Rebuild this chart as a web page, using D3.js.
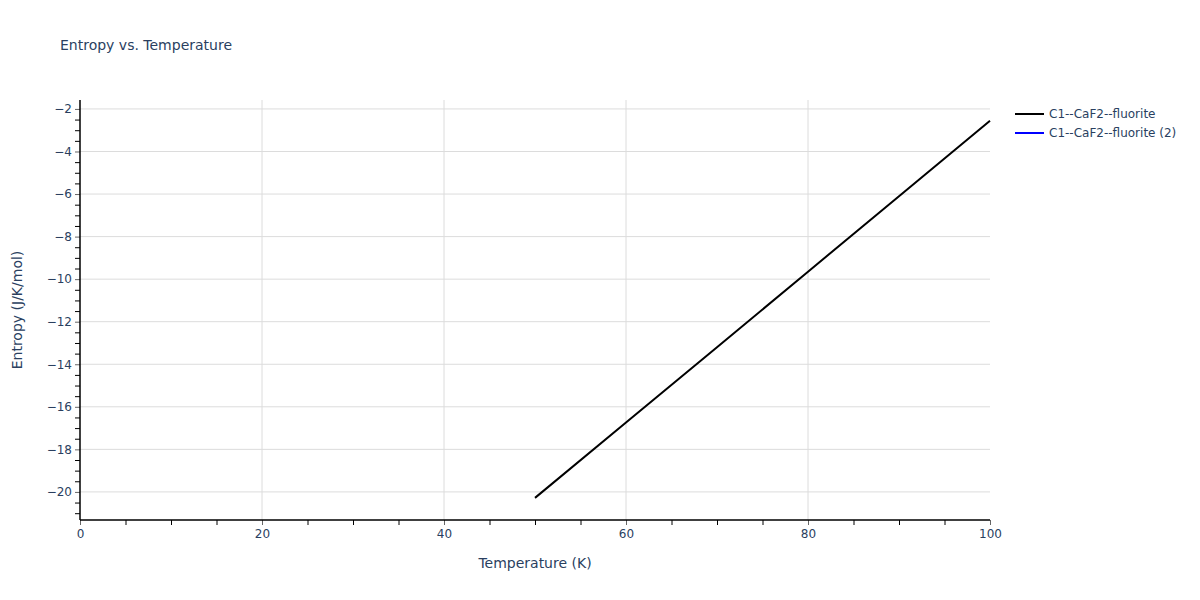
<!DOCTYPE html>
<html>
<head>
<meta charset="utf-8">
<script src="https://cdn.jsdelivr.net/npm/d3@7"></script>
<style>
  html, body { margin: 0; padding: 0; background: #fff; }
  svg text { font-family: "DejaVu Sans", verdana, arial, sans-serif; }
</style>
</head>
<body>
<svg id="chart" width="1200" height="600"></svg>
<script>
// ---- data ----
const temperature = [50, 60, 70, 80, 90, 100];
const entropy = [-20.28, -16.74, -13.2, -9.65, -6.1, -2.56];
const temperature2 = [];
const entropy2 = [];
const seriesNames = ["C1--CaF2--fluorite", "C1--CaF2--fluorite (2)"];
const seriesColors = ["#000000", "#0000ff"];
const xTicks = [0, 20, 40, 60, 80, 100];
const yTicks = [-20, -18, -16, -14, -12, -10, -8, -6, -4, -2];
const xDomain = [0, 100];
const yDomain = [-21.32, -1.58];

const svg = d3.select("#chart");
const margin = {left: 80, right: 210, top: 100, bottom: 80};
const W = 1200, H = 600;
const x = d3.scaleLinear().domain(xDomain).range([margin.left, W - margin.right]);
const y = d3.scaleLinear().domain(yDomain).range([H - margin.bottom, margin.top]);
const textColor = "#2a3f5f";
const fmt = v => (v < 0 ? "\u2212" + Math.abs(v) : String(v));

// grid
svg.append("g").selectAll("line").data(xTicks.filter(t => t > xDomain[0] && t < xDomain[1]))
  .join("line").attr("x1", d => x(d)).attr("x2", d => x(d))
  .attr("y1", y.range()[1]).attr("y2", y.range()[0])
  .attr("stroke", "#dcdcdc").attr("stroke-width", 1);
svg.append("g").selectAll("line").data(yTicks)
  .join("line").attr("y1", d => y(d)).attr("y2", d => y(d))
  .attr("x1", x.range()[0]).attr("x2", x.range()[1])
  .attr("stroke", "#dcdcdc").attr("stroke-width", 1);

// minor ticks
const xMinor = d3.range(xDomain[0], xDomain[1] + 0.001, 5).filter(v => !xTicks.includes(v));
const yMinor = d3.range(-21, -1.5, 0.5).filter(v => !yTicks.includes(v));
svg.append("g").attr("transform", `translate(0,${y.range()[0]})`)
  .call(d3.axisBottom(x).tickValues(xMinor).tickSize(5).tickFormat(""))
  .call(g => g.select(".domain").remove())
  .call(g => g.selectAll("line").attr("stroke", "#000"));
svg.append("g").attr("transform", `translate(${x.range()[0]},0)`)
  .call(d3.axisLeft(y).tickValues(yMinor).tickSize(5).tickFormat(""))
  .call(g => g.select(".domain").remove())
  .call(g => g.selectAll("line").attr("stroke", "#000"));

// major axes
const xAxis = svg.append("g").attr("transform", `translate(0,${y.range()[0]})`)
  .call(d3.axisBottom(x).tickValues(xTicks).tickSize(5).tickPadding(4).tickFormat(fmt));
const yAxis = svg.append("g").attr("transform", `translate(${x.range()[0]},0)`)
  .call(d3.axisLeft(y).tickValues(yTicks).tickSize(5).tickPadding(3).tickFormat(fmt));
[xAxis, yAxis].forEach(g => {
  g.select(".domain").remove();
  g.selectAll("line").attr("stroke", "#666");
  g.selectAll("text").attr("fill", textColor).style("font-size", "12px");
});
// axis lines
svg.append("line").attr("x1", x.range()[0]).attr("x2", x.range()[1])
  .attr("y1", y.range()[0]).attr("y2", y.range()[0]).attr("stroke", "#000").attr("stroke-width", 1.5);
svg.append("line").attr("x1", x.range()[0]).attr("x2", x.range()[0])
  .attr("y1", y.range()[0]).attr("y2", y.range()[1]).attr("stroke", "#000").attr("stroke-width", 1.5);

// lines
const line = d3.line().x(d => x(d[0])).y(d => y(d[1]));
const series = [
  d3.zip(temperature, entropy),
  d3.zip(temperature2, entropy2)
];
series.forEach((s, i) => {
  if (!s.length) return;
  svg.append("path").datum(s).attr("d", line).attr("fill", "none")
    .attr("stroke", seriesColors[i]).attr("stroke-width", 2);
});

// titles
svg.append("text").attr("x", 60).attr("y", 50).attr("fill", textColor)
  .style("font-size", "14px").text("Entropy vs. Temperature");
svg.append("text").attr("x", (x.range()[0] + x.range()[1]) / 2).attr("y", 568)
  .attr("text-anchor", "middle").attr("fill", textColor).style("font-size", "14px")
  .text("Temperature (K)");
svg.append("text").attr("transform", `translate(22,${(y.range()[0] + y.range()[1]) / 2}) rotate(-90)`)
  .attr("text-anchor", "middle").attr("fill", textColor).style("font-size", "14px")
  .text("Entropy (J/K/mol)");

// legend
const leg = svg.append("g").attr("transform", "translate(1015,114)");
seriesNames.forEach((n, i) => {
  const g = leg.append("g").attr("transform", `translate(0,${i * 19})`);
  g.append("line").attr("x1", 0).attr("x2", 29).attr("y1", 0).attr("y2", 0)
    .attr("stroke", seriesColors[i]).attr("stroke-width", 2);
  g.append("text").attr("x", 34).attr("y", 4).attr("fill", textColor)
    .style("font-size", "12px").text(n);
});
</script>
</body>
</html>
